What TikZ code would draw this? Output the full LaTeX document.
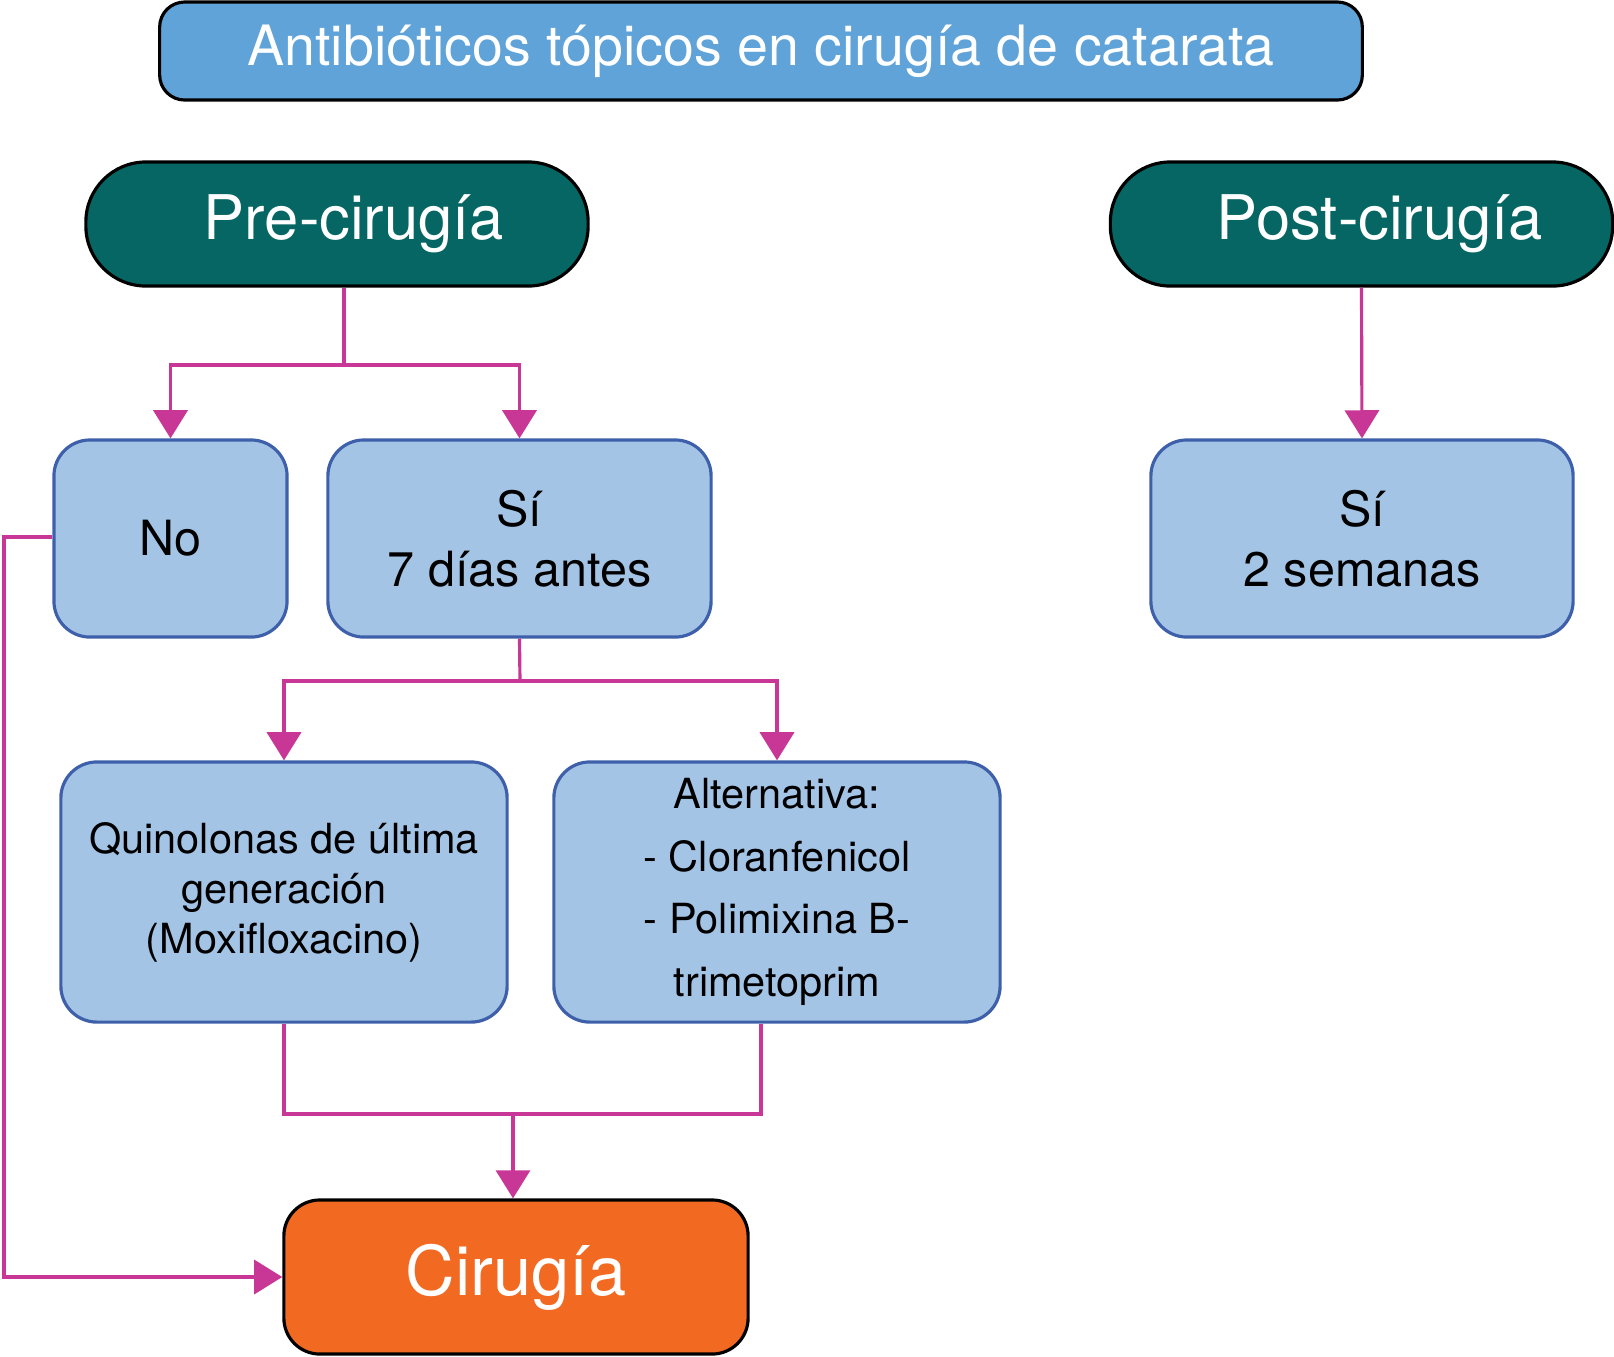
\documentclass[tikz,border=0pt]{standalone}
\usepackage{fontspec}
\setmainfont{TeX Gyre Heros}
\usetikzlibrary{arrows.meta}

\definecolor{titleblue}{RGB}{95,163,216}
\definecolor{tealpill}{RGB}{5,102,99}
\definecolor{boxfill}{RGB}{164,196,230}
\definecolor{boxline}{RGB}{62,95,170}
\definecolor{surgorange}{RGB}{242,106,34}
\definecolor{linkpink}{RGB}{200,55,150}

\begin{document}
\begin{tikzpicture}[x=0.01cm, y=-0.01cm,
  link/.style={draw=linkpink, line width=0.9pt},
  flow/.style={link, -{Triangle[width=9.7pt,length=8pt]}},
  pill/.style={draw=black, line width=0.9pt, fill=tealpill, text=white, rounded corners=0.6cm,
    minimum width=5.02cm, minimum height=1.24cm, font=\fontsize{17.5}{21}\selectfont},
  bluebox/.style={draw=boxline, line width=0.9pt, fill=boxfill, rounded corners=0.36cm,
    align=center, font=\fontsize{13.8}{17}\selectfont},
  drugbox/.style={bluebox, minimum width=4.46cm, minimum height=2.6cm, font=\fontsize{11.8}{14.2}\selectfont}]
\useasboundingbox (0,0) rectangle (1614,1356);

% Header
\node[draw=black, line width=0.9pt, fill=titleblue, text=white, rounded corners=0.25cm,
  minimum width=12.02cm, minimum height=0.98cm, font=\fontsize{15.8}{19}\selectfont]
  (title) at (761,51) {Antibióticos tópicos en cirugía de catarata};
\node[pill] (pre) at (337,224) {\hspace*{9.7pt}Pre-cirugía};
\node[pill] (post) at (1361.5,224) {\hspace*{10.5pt}Post-cirugía};

% Boxes
\node[bluebox, minimum width=2.33cm, minimum height=1.97cm] (no) at (170.5,538.5) {No};
\node[bluebox, minimum width=3.83cm, minimum height=1.97cm] (si7) at (519.5,538.5) {Sí\\7 días antes};
\node[bluebox, minimum width=4.22cm, minimum height=1.97cm] (si2) at (1362,538.5) {Sí\\2 semanas};
\node[drugbox] (quin) at (284,892) {Quinolonas de última\\generación\\(Moxifloxacino)};
\node[drugbox, font=\fontsize{11.8}{17.8}\selectfont] (alt) at (777,892) {Alternativa:\\- Cloranfenicol\\- Polimixina B-\\trimetoprim};
\node[draw=black, line width=0.9pt, fill=surgorange, text=white, rounded corners=0.36cm,
  minimum width=4.64cm, minimum height=1.54cm, font=\fontsize{19.5}{23}\selectfont]
  (cir) at (516,1277) {Cirugía};

% Junctions
\coordinate (jpre) at (344,365);
\coordinate (jsi) at (520,681);
\coordinate (jq) at (284,1114);
\coordinate (ja) at (761,1114);
\coordinate (jcir) at (513,1114);
\coordinate (jno) at (4,537);

% Arrows
\draw[link] (jpre |- pre.south) -- (jpre);
\draw[flow] (jpre) -| (no.north);
\draw[flow] (jpre) -| (si7.north);
\draw[flow] (post.south) -- (si2.north);
\draw[link] (si7.south) -- (jsi);
\draw[flow] (jsi) -| (quin.north);
\draw[flow] (jsi) -| (alt.north);
\draw[link] (quin.south) -- (jq) -- (ja) -- (ja |- alt.south);
\draw[flow] (jcir) -- (jcir |- cir.north);
\draw[flow] (no.west |- jno) -- (jno) |- (cir.west);
\end{tikzpicture}
\end{document}
